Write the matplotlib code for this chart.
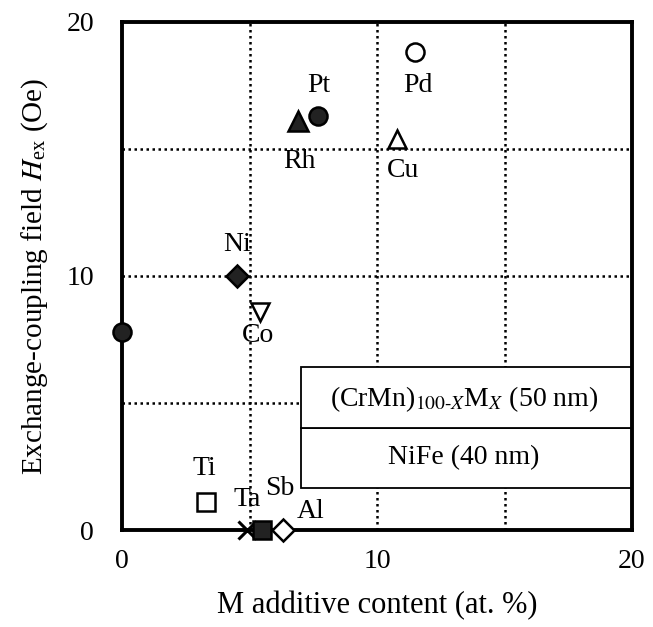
import matplotlib
matplotlib.use("Agg")
import matplotlib.pyplot as plt
from matplotlib.patches import Rectangle

plt.rcParams["font.family"] = ["Liberation Serif", "DejaVu Serif"]
plt.rcParams["mathtext.fontset"] = "stix"

# additive element, content (at. %), Hex (Oe)
elements = ["", "Ni", "Co", "Rh", "Pt", "Cu", "Pd", "Ti", "Ta", "Sb", "Al"]
content = [0.0, 4.5, 5.4, 6.9, 7.7, 10.8, 11.5, 3.3, 4.9, 5.5, 6.3]
hex_field = [7.8, 10.0, 8.6, 16.1, 16.3, 15.4, 18.8, 1.1, 0.0, 0.0, 0.0]
markers = ["o", "D", "v", "^", "o", "^", "o", "s", "x", "s", "D"]
filled = [True, True, False, True, True, False, False, False, False, True, False]
sizes = [13, 11, 13, 14, 13, 13, 13, 13, 13, 13, 11]
# label offsets in points
label_offsets = [(0, 0), (0, 23), (-1, -17), (1, -29), (0, 22), (4, -23),
                 (2, -24), (-1, 24), (0, 22), (13, 30), (20, 13)]

xticks = [0, 10, 20]
yticks = [0, 10, 20]
grid_lines = [5, 10, 15]

fig = plt.figure(figsize=(6.53, 6.27), dpi=100)
ax = fig.add_axes([122 / 653, 97 / 627, 510 / 653, 508 / 627])
ax.set_xlim(0, 20)
ax.set_ylim(0, 20)

for g in grid_lines:
    ax.axvline(g, color="black", ls=(0, (1.0, 1.4)), lw=1.8, zorder=1)
    ax.axhline(g, color="black", ls=(0, (1.0, 1.4)), lw=1.8, zorder=1)

# layer stack inset
box_x0, box_x1 = 7.03, 20
ax.add_patch(Rectangle((box_x0, 1.65), box_x1 - box_x0, 2.35, fc="white",
                       ec="black", lw=1.3, zorder=2))
ax.add_patch(Rectangle((box_x0, 4.0), box_x1 - box_x0, 2.4, fc="white",
                       ec="black", lw=1.3, zorder=2))
ax.text(13.4, 5.15, r"(CrMn)$_{100\mathregular{\text{-}}X}$M$_X$ (50 nm)",
        ha="center", va="center", fontsize=20, zorder=3)
ax.text(13.4, 2.85, "NiFe (40 nm)", ha="center", va="center",
        fontsize=20, zorder=3)

for name, x, y, m, f, s, off in zip(elements, content, hex_field, markers,
                                    filled, sizes, label_offsets):
    if m == "x":
        ax.plot(x, y, marker=m, ms=s, mew=2.2, color="black", ls="none",
                clip_on=False, zorder=4)
    else:
        ax.plot(x, y, marker=m, ms=s, mew=1.8, mec="black",
                mfc="#222222" if f else "white", ls="none",
                clip_on=False, zorder=5)
    if name:
        ax.annotate(name, (x, y), xytext=off, textcoords="offset points",
                    ha="center", va="center", fontsize=20, zorder=6)

for sp in ax.spines.values():
    sp.set_linewidth(2.8)
    sp.set_zorder(4)

ax.set_xticks(xticks)
ax.set_yticks(yticks)
ax.tick_params(length=0, labelsize=20)
ax.tick_params(axis="x", pad=14)
ax.tick_params(axis="y", pad=20)

ax.set_xlabel("M additive content (at. %)", fontsize=22, labelpad=12)
ax.set_ylabel(r"Exchange-coupling field $H_{\mathregular{ex}}$ (Oe)",
              fontsize=21, labelpad=12)

fig.savefig("out.png", dpi=100)
